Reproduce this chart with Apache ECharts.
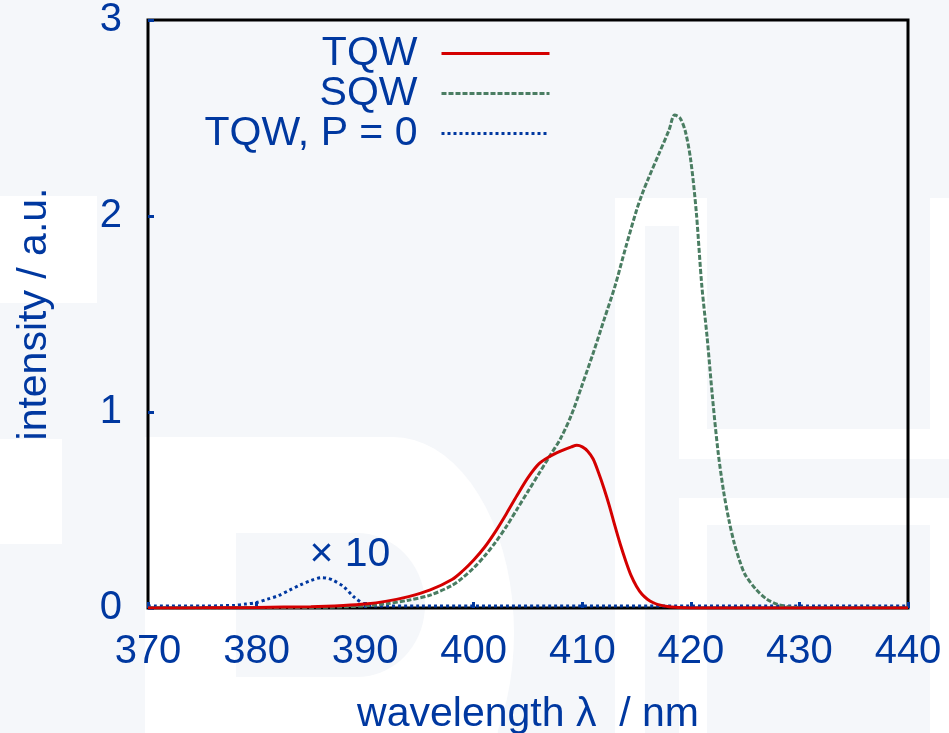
<!DOCTYPE html>
<html>
<head>
<meta charset="utf-8">
<script src="https://cdn.jsdelivr.net/npm/echarts@6/dist/echarts.min.js"></script>
<style>
html,body{margin:0;padding:0;background:#f5f7fa;}
#chart{width:949px;height:733px;}
</style>
</head>
<body>
<div id="chart"></div>
<script>
// ---- data ----
var tqwX = [370, 375, 380, 385, 388, 390, 392, 394, 396, 398, 399, 400, 401, 402, 403, 404, 405, 406, 407, 408, 409, 409.5, 410, 410.5, 411, 411.5, 412, 412.5, 413, 413.5, 414, 414.5, 415, 415.5, 416, 416.5, 417, 418, 419, 420, 425, 440];
var tqwY = [0, 0.001, 0.003, 0.007, 0.013, 0.02, 0.035, 0.058, 0.092, 0.145, 0.19, 0.245, 0.31, 0.39, 0.48, 0.575, 0.665, 0.735, 0.773, 0.80, 0.822, 0.83, 0.822, 0.80, 0.76, 0.69, 0.61, 0.52, 0.42, 0.325, 0.24, 0.165, 0.11, 0.07, 0.045, 0.028, 0.017, 0.006, 0.002, 0, 0, 0];

var sqwX = [370, 380, 385, 388, 390, 392, 394, 396, 398, 399, 400, 401, 402, 403, 404, 405, 406, 407, 408, 409, 410, 411, 412, 413, 414, 415, 415.5, 416, 417, 418, 418.5, 419, 419.5, 420, 420.5, 421, 421.5, 422, 422.5, 423, 423.5, 424, 424.5, 425, 426, 427, 428, 429, 430, 432, 440];
var sqwY = [0, 0.001, 0.003, 0.006, 0.011, 0.022, 0.04, 0.066, 0.115, 0.155, 0.205, 0.265, 0.335, 0.415, 0.505, 0.595, 0.685, 0.775, 0.865, 0.985, 1.14, 1.30, 1.47, 1.64, 1.84, 2.03, 2.11, 2.18, 2.31, 2.44, 2.515, 2.50, 2.43, 2.28, 2.02, 1.65, 1.38, 1.07, 0.80, 0.60, 0.45, 0.33, 0.24, 0.17, 0.095, 0.045, 0.018, 0.006, 0.002, 0, 0];

var p0X = [370, 375, 378, 379, 380, 381, 382, 383, 384, 385, 386, 386.5, 387, 388, 389, 390, 391, 395, 400, 410, 420, 430, 440];
var p0Y = [0.01, 0.01, 0.014, 0.02, 0.028, 0.045, 0.063, 0.09, 0.117, 0.14, 0.155, 0.152, 0.143, 0.11, 0.055, 0.018, 0.01, 0.01, 0.01, 0.01, 0.01, 0.01, 0.01];

var seriesNames = ['TQW', 'SQW', 'TQW, P = 0'];
var xTicks = [370, 380, 390, 400, 410, 420, 430, 440];
var yTicks = [0, 1, 2, 3];
var annotation = {text: '\u00d7 10', x: 388.6, y: 0.27};

function zip(xs, ys) { return xs.map(function (x, i) { return [x, ys[i]]; }); }

var BLUE = '#0038a0';
var FONT = '"Liberation Sans", Arial, sans-serif';
var BG = '#f5f7fa';

// decorative watermark helper (ellipse arc points for outlined letter "D")
function dShape(x0, yTop, xs, cy, rx, ry, yBottom, a1) {
  var pts = [[x0, yTop], [xs, yTop]];
  for (var a = -90; a <= a1; a += 5) {
    var r = a * Math.PI / 180;
    pts.push([xs + rx * Math.cos(r), cy + ry * Math.sin(r)]);
  }
  pts.push([pts[pts.length - 1][0], yBottom]);
  pts.push([x0, yBottom]);
  return pts;
}

var chart = echarts.init(document.getElementById('chart'), null, {renderer: 'canvas'});

var wm = [
  {type: 'rect', shape: {x: 0, y: 196, width: 97, height: 107}, style: {fill: '#fff'}},
  {type: 'rect', shape: {x: 0, y: 439, width: 62, height: 105}, style: {fill: '#fff'}},
  {type: 'polygon', shape: {points: dShape(145, 437, 393, 633, 121, 196, 733, 30)}, style: {fill: '#fff'}},
  {type: 'polygon', shape: {points: dShape(236, 533, 357, 605, 68, 72, 677, 90)}, style: {fill: BG}},
  {type: 'rect', shape: {x: 615, y: 198, width: 334, height: 535}, style: {fill: '#fff'}},
  {type: 'rect', shape: {x: 707, y: 198, width: 223, height: 231}, style: {fill: BG}},
  {type: 'rect', shape: {x: 707, y: 525, width: 223, height: 208}, style: {fill: BG}},
  {type: 'rect', shape: {x: 645, y: 226, width: 34, height: 507}, style: {fill: BG}},
  {type: 'rect', shape: {x: 645, y: 459, width: 304, height: 39}, style: {fill: BG}}
];
wm.forEach(function (g) { g.z = -100; g.silent = true; });

var option = {
  backgroundColor: BG,
  animation: false,
  graphic: {elements: wm},
  textStyle: {fontFamily: FONT},
  grid: {left: 148, top: 20, width: 760, height: 588, show: true, borderColor: '#000', borderWidth: 3,
    backgroundColor: 'transparent', containLabel: false, outerBoundsMode: 'none'},
  legend: {
    data: seriesNames,
    orient: 'vertical',
    align: 'right',
    right: 393,
    top: 28,
    itemWidth: 108,
    itemHeight: 14,
    itemGap: -1,
    itemStyle: {opacity: 0},
    lineStyle: {width: 3},
    textStyle: {fontSize: 41, color: BLUE, fontFamily: FONT, lineHeight: 37, padding: [0, 19, 0, 0]}
  },
  xAxis: {
    type: 'value', min: 370, max: 440, interval: 10,
    name: 'wavelength \u03bb  / nm', nameLocation: 'middle', nameGap: 86,
    nameTextStyle: {fontSize: 41, color: BLUE, fontFamily: FONT},
    axisLine: {show: false},
    axisTick: {show: true, inside: true, length: 6, lineStyle: {color: BLUE, width: 3}},
    splitLine: {show: false},
    axisLabel: {fontSize: 40, color: BLUE, margin: 24, fontFamily: FONT,
      formatter: function (v) { return xTicks.indexOf(v) >= 0 ? String(v) : ''; }}
  },
  yAxis: {
    type: 'value', min: 0, max: 3, interval: 1,
    name: 'intensity / a.u.', nameLocation: 'middle', nameGap: 93,
    nameTextStyle: {fontSize: 41, color: BLUE, fontFamily: FONT},
    axisLine: {show: false},
    axisTick: {show: true, inside: true, length: 6, lineStyle: {color: BLUE, width: 3}},
    splitLine: {show: false},
    axisLabel: {fontSize: 40, color: BLUE, margin: 26, fontFamily: FONT,
      formatter: function (v) { return yTicks.indexOf(v) >= 0 ? String(v) : ''; }}
  },
  series: [
    {
      name: seriesNames[0], type: 'line', data: zip(tqwX, tqwY), symbol: 'none',
      smooth: 0.3, z: 4,
      lineStyle: {color: '#d40000', width: 3}, itemStyle: {color: '#d40000'}
    },
    {
      name: seriesNames[1], type: 'line', data: zip(sqwX, sqwY), symbol: 'none',
      smooth: 0.3, z: 3,
      lineStyle: {color: '#4a7d62', width: 3, type: [5, 2]}, itemStyle: {color: '#4a7d62'}
    },
    {
      name: seriesNames[2], type: 'line', data: zip(p0X, p0Y), symbol: 'none',
      smooth: 0.3, z: 2,
      lineStyle: {color: BLUE, width: 3, type: [3, 3]}, itemStyle: {color: BLUE},
      markPoint: {
        symbol: 'rect', symbolSize: 1, itemStyle: {color: 'rgba(0,0,0,0)'},
        label: {show: true, position: 'inside', formatter: annotation.text, fontSize: 41, color: BLUE, fontFamily: FONT},
        data: [{coord: [annotation.x, annotation.y]}]
      }
    }
  ]
};
chart.setOption(option);
</script>
</body>
</html>
